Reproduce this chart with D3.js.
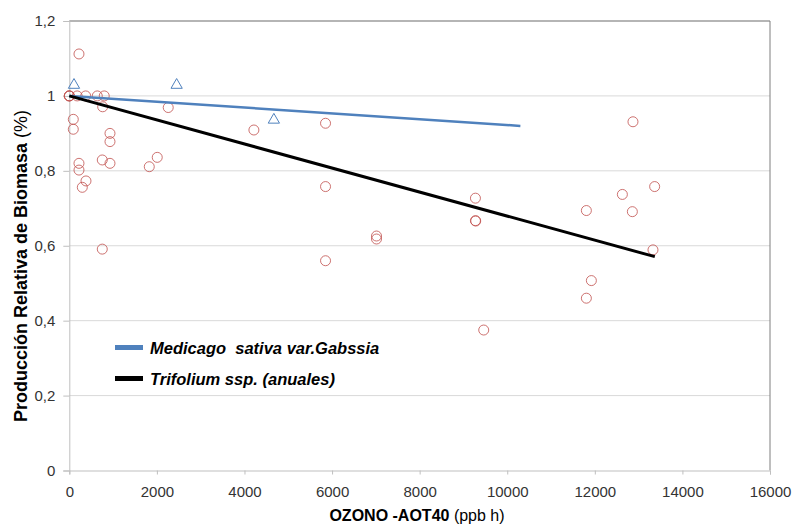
<!DOCTYPE html>
<html>
<head>
<meta charset="utf-8">
<script src="https://cdn.jsdelivr.net/npm/d3@7"></script>
<style>
  html, body { margin: 0; padding: 0; background: #fff; }
  svg { display: block; font-family: "Liberation Sans", Arial, sans-serif; }
</style>
</head>
<body>
<svg id="chart" width="793" height="526"></svg>
<script>
// ---- data ----
const xTicks = [0, 2000, 4000, 6000, 8000, 10000, 12000, 14000, 16000];
const yTicks = [0, 0.2, 0.4, 0.6, 0.8, 1.0, 1.2];
const yTickLabels = ["0", "0,2", "0,4", "0,6", "0,8", "1", "1,2"];

// Trifolium ssp. observations (circles): [AOT40, relative biomass]
const trifoliumX = [0, 0, 0, 91, 91, 221, 180, 221, 221, 297, 381, 374, 639, 798, 762,
  753, 753, 929, 929, 929, 1826, 2008, 2259, 4215, 5851, 5851, 5851, 7015, 7015,
  9274, 9274, 9280, 9463, 11807, 11807, 11921, 12629, 12871, 12857, 13366, 13328];
const trifoliumY = [1.0, 1.0, 1.0, 0.9375, 0.911, 1.112, 1.0, 0.820, 0.802, 0.756, 0.773, 1.0, 1.0, 1.0, 0.971,
  0.829, 0.591, 0.900, 0.878, 0.820, 0.811, 0.836, 0.969, 0.909, 0.927, 0.758, 0.560, 0.626, 0.618,
  0.727, 0.667, 0.666, 0.375, 0.694, 0.460, 0.507, 0.737, 0.931, 0.691, 0.758, 0.589];

// Medicago sativa observations (triangles)
const medicagoX = [107, 2451, 4671];
const medicagoY = [1.029, 1.029, 0.936];

// Regression lines (endpoints)
const medicagoLineX = [0, 10300];
const medicagoLineY = [1.0, 0.92];
const trifoliumLineX = [0, 13370];
const trifoliumLineY = [1.0, 0.571];

const legendLabels = ["Medicago  sativa var.Gabssia", "Trifolium ssp. (anuales)"];

// ---- layout ----
const svg = d3.select("#chart");
const mLeft = 69.3, mRight = 770, mTop = 21, mBottom = 470.5;
const x = d3.scaleLinear().domain([0, 16000]).range([mLeft, mRight]);
const y = d3.scaleLinear().domain([0, 1.2]).range([mBottom, mTop]);

// gridlines
svg.append("g").selectAll("line").data(yTicks.slice(1)).join("line")
  .attr("x1", mLeft).attr("x2", mRight)
  .attr("y1", d => y(d)).attr("y2", d => y(d))
  .attr("stroke", "#d9d9d9").attr("stroke-width", 1);

// top/right border
svg.append("path")
  .attr("d", `M${mLeft},${y(1.2)}H${mRight}V${mBottom}`)
  .attr("fill", "none").attr("stroke", "#7f7f7f").attr("stroke-width", 1);

// x axis
const xAxis = svg.append("g").attr("transform", `translate(0,${mBottom})`)
  .call(d3.axisBottom(x).tickValues(xTicks).tickFormat(d3.format("d")).tickSize(4).tickPadding(12));
xAxis.select(".domain").attr("stroke", "#bfbfbf");
xAxis.selectAll(".tick line").attr("stroke", "#bfbfbf");
xAxis.selectAll("text").attr("font-size", 15).attr("fill", "#333").attr("font-family", "Liberation Sans, Arial, sans-serif");

// y axis
const yAxis = svg.append("g").attr("transform", `translate(${mLeft},0)`)
  .call(d3.axisLeft(y).tickValues(yTicks).tickFormat((d, i) => yTickLabels[i]).tickSize(6).tickPadding(8));
yAxis.select(".domain").attr("stroke", "#bfbfbf");
yAxis.selectAll(".tick line").attr("stroke", "#bfbfbf");
yAxis.selectAll("text").attr("font-size", 15).attr("fill", "#333").attr("font-family", "Liberation Sans, Arial, sans-serif");

// circles
svg.append("g").selectAll("circle").data(trifoliumX.map((d, i) => [d, trifoliumY[i]])).join("circle")
  .attr("cx", d => x(d[0])).attr("cy", d => y(d[1])).attr("r", 5)
  .attr("fill", "none").attr("stroke", "#c0504d").attr("stroke-opacity", 0.8).attr("stroke-width", 1);

// triangles
const tri = d3.symbol().type(d3.symbolTriangle).size(55);
svg.append("g").selectAll("path").data(medicagoX.map((d, i) => [d, medicagoY[i]])).join("path")
  .attr("d", tri)
  .attr("transform", d => `translate(${x(d[0])},${y(d[1])})`)
  .attr("fill", "none").attr("stroke", "#4f81bd").attr("stroke-width", 1);

// regression lines
const line = d3.line().x(d => x(d[0])).y(d => y(d[1]));
svg.append("path").datum(medicagoLineX.map((d, i) => [d, medicagoLineY[i]]))
  .attr("d", line).attr("fill", "none").attr("stroke", "#4f81bd").attr("stroke-width", 2.5);
svg.append("path").datum(trifoliumLineX.map((d, i) => [d, trifoliumLineY[i]]))
  .attr("d", line).attr("fill", "none").attr("stroke", "#000").attr("stroke-width", 3);

// legend
const legendColors = ["#4f81bd", "#000"];
const legendY = [347.5, 378.5];
legendLabels.forEach((lab, i) => {
  svg.append("rect").attr("x", 115).attr("y", legendY[i] - 2.5).attr("width", 28).attr("height", 5)
    .attr("fill", legendColors[i]);
  svg.append("text").attr("x", 150).attr("y", legendY[i] + 6)
    .attr("font-size", 16.5).attr("font-weight", "bold").attr("font-style", "italic")
    .attr("xml:space", "preserve")
    .attr("fill", "#000").text(lab);
});

// axis titles
const xt = svg.append("text").attr("x", 417).attr("y", 521).attr("text-anchor", "middle")
  .attr("font-size", 16).attr("fill", "#000");
xt.append("tspan").attr("font-weight", "bold").text("OZONO -AOT40");
xt.append("tspan").text(" (ppb h)");

const yt = svg.append("text").attr("transform", "translate(27,266) rotate(-90)")
  .attr("text-anchor", "middle").attr("font-size", 18).attr("fill", "#000");
yt.append("tspan").attr("font-weight", "bold").text("Producción Relativa de Biomasa");
yt.append("tspan").text(" (%)");
</script>
</body>
</html>
